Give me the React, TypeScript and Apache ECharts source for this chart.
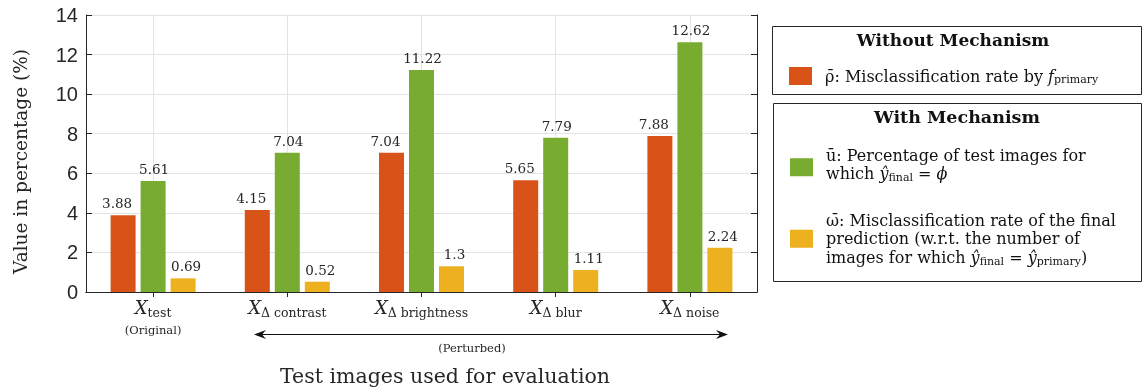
import React, { useEffect, useRef } from "react";
import * as echarts from "echarts";

const categories = ["test", "Δ contrast", "Δ brightness", "Δ blur", "Δ noise"];
const rhoValues = [3.88, 4.15, 7.04, 5.65, 7.88];
const uValues = [5.61, 7.04, 11.22, 7.79, 12.62];
const omegaValues = [0.69, 0.52, 1.3, 1.11, 2.24];
const yTicks = { min: 0, max: 14, interval: 2 };

const RED = "#D95319";
const GREEN = "#77AC30";
const YELLOW = "#EDB120";
const INK = "#262626";
const SERIF = "DejaVu Serif";

export default function App() {
  const ref = useRef<HTMLDivElement>(null);
  useEffect(() => {
    if (!ref.current) return;
    const chart = echarts.init(ref.current, undefined, { renderer: "svg" });
    const labelBase = {
      show: true,
      position: "top" as const,
      distance: 5,
      fontFamily: SERIF,
      fontSize: 13.5,
      color: INK,
    };
    const legendRich = {
      t: { fontFamily: SERIF, fontSize: 16, color: "#111", lineHeight: 18.5 },
      it: { fontFamily: SERIF, fontStyle: "italic", fontSize: 16, color: "#111", lineHeight: 18.5 },
      sub: { fontFamily: SERIF, fontSize: 11, color: "#111", lineHeight: 8, verticalAlign: "bottom" },
    };
    const legendNames: Record<string, string> = {
      rho: "{t|ρ̄: Misclassification rate by }{it|f}{sub|primary}",
      u: "{t|ū: Percentage of test images for}\n{t|which }{it|ŷ}{sub|final}{t| = }{it|ϕ}",
      omega:
        "{t|ω̄: Misclassification rate of the final}\n{t|prediction (w.r.t. the number of}\n{t|images for which }{it|ŷ}{sub|final}{t| = }{it|ŷ}{sub|primary}{t|)}",
    };
    const axisLineStyle = { color: INK, width: 1 };
    chart.setOption({
      animation: false,
      grid: { left: 86, right: 385, top: 15, bottom: 95, containLabel: false },
      xAxis: [
        {
          type: "category",
          data: categories,
          position: "bottom",
          axisLine: { show: true, lineStyle: axisLineStyle },
          axisTick: { show: true, inside: true, alignWithLabel: true, length: 5, lineStyle: axisLineStyle },
          splitLine: { show: true, alignWithLabel: true, lineStyle: { color: "#e3e3e3", width: 1 } },
          axisLabel: {
            margin: 3,
            interval: 0,
            formatter: (v: string, i: number) =>
              i === 0 ? `{x|X}{sub|${v}}\n{o|(Original)}` : `{x|X}{sub|${v}}`,
            rich: {
              x: { fontFamily: SERIF, fontStyle: "italic", fontSize: 18, color: INK, lineHeight: 24 },
              sub: { fontFamily: SERIF, fontSize: 12.5, color: INK, lineHeight: 11, verticalAlign: "bottom" },
              o: { fontFamily: SERIF, fontSize: 11.5, color: INK, lineHeight: 22 },
            },
          },
        },
        {
          type: "category",
          data: categories,
          position: "top",
          axisLine: { show: true, lineStyle: axisLineStyle },
          axisTick: { show: true, inside: true, alignWithLabel: true, length: 5, lineStyle: axisLineStyle },
          axisLabel: { show: false },
          splitLine: { show: false },
        },
      ],
      yAxis: [
        {
          type: "value",
          min: yTicks.min,
          max: yTicks.max,
          interval: yTicks.interval,
          position: "left",
          name: "Value in percentage (%)",
          nameLocation: "middle",
          nameGap: 56,
          nameTextStyle: { fontFamily: SERIF, fontSize: 18.5, color: INK, padding: [0, 16, 0, 0] },
          axisLine: { show: true, lineStyle: axisLineStyle },
          axisTick: { show: true, inside: true, length: 6, lineStyle: axisLineStyle },
          splitLine: { show: true, lineStyle: { color: "#e3e3e3", width: 1 } },
          axisLabel: { fontFamily: "Liberation Sans", fontSize: 20, color: INK, margin: 8 },
        },
        {
          type: "value",
          min: yTicks.min,
          max: yTicks.max,
          interval: yTicks.interval,
          position: "right",
          axisLine: { show: true, lineStyle: axisLineStyle },
          axisTick: { show: true, inside: true, length: 6, lineStyle: axisLineStyle },
          splitLine: { show: false },
          axisLabel: { show: false },
        },
      ],
      legend: [
        {
          data: ["rho"],
          left: 789,
          top: 67,
          padding: 0,
          itemWidth: 23,
          itemHeight: 18,
          icon: "rect",
          selectedMode: false,
          itemStyle: { borderWidth: 0 },
          formatter: (n: string) => legendNames[n],
          textStyle: { rich: legendRich, padding: [0, 0, 0, 8] },
        },
        {
          data: [
            { name: "u", textStyle: { rich: legendRich, padding: [0, 0, 6, 8] } },
            { name: "omega" },
          ],
          orient: "vertical",
          left: 790,
          top: 147,
          padding: 0,
          itemGap: 29.5,
          itemWidth: 23,
          itemHeight: 18,
          icon: "rect",
          selectedMode: false,
          itemStyle: { borderWidth: 0 },
          formatter: (n: string) => legendNames[n],
          textStyle: { rich: legendRich, padding: [0, 0, 0, 8] },
        },
      ],
      graphic: [
        {
          type: "rect",
          shape: { x: 772.5, y: 26.5, width: 369, height: 68 },
          style: { fill: "none", stroke: INK, lineWidth: 1 },
        },
        {
          type: "rect",
          shape: { x: 773.5, y: 103.5, width: 368, height: 178 },
          style: { fill: "none", stroke: INK, lineWidth: 1 },
        },
        {
          type: "text",
          x: 953,
          y: 40,
          style: { text: "Without Mechanism", fontFamily: SERIF, fontWeight: "bold", fontSize: 17, fill: "#111", align: "center", verticalAlign: "middle" },
        },
        {
          type: "text",
          x: 957,
          y: 117,
          style: { text: "With Mechanism", fontFamily: SERIF, fontWeight: "bold", fontSize: 17.5, fill: "#111", align: "center", verticalAlign: "middle" },
        },
        {
          type: "line",
          shape: { x1: 258, y1: 334.5, x2: 724, y2: 334.5 },
          style: { stroke: "#111", lineWidth: 1.2 },
        },
        {
          type: "polygon",
          shape: { points: [[254, 334.5], [266, 330], [262, 334.5], [266, 339]] },
          style: { fill: "#111" },
        },
        {
          type: "polygon",
          shape: { points: [[728, 334.5], [716, 330], [720, 334.5], [716, 339]] },
          style: { fill: "#111" },
        },
        {
          type: "text",
          x: 472,
          y: 348,
          style: { text: "(Perturbed)", fontFamily: SERIF, fontSize: 11.5, fill: INK, align: "center", verticalAlign: "middle" },
        },
        {
          type: "text",
          x: 445,
          y: 376,
          style: { text: "Test images used for evaluation", fontFamily: SERIF, fontSize: 20.5, fill: INK, align: "center", verticalAlign: "middle" },
        },
      ],
      series: [
        {
          name: "rho",
          type: "bar",
          data: rhoValues,
          barWidth: 25,
          barGap: "20%",
          itemStyle: { color: RED },
          label: { ...labelBase, offset: [-6, 0] },
        },
        {
          name: "u",
          type: "bar",
          data: uValues,
          barWidth: 25,
          barGap: "20%",
          itemStyle: { color: GREEN },
          label: { ...labelBase, offset: [1, 0] },
        },
        {
          name: "omega",
          type: "bar",
          data: omegaValues,
          barWidth: 25,
          barGap: "20%",
          itemStyle: { color: YELLOW },
          label: { ...labelBase, offset: [3, 0] },
        },
      ],
    });
    return () => chart.dispose();
  }, []);
  return <div ref={ref} style={{ position: "fixed", left: 0, top: 0, width: 1142, height: 387 }} />;
}
